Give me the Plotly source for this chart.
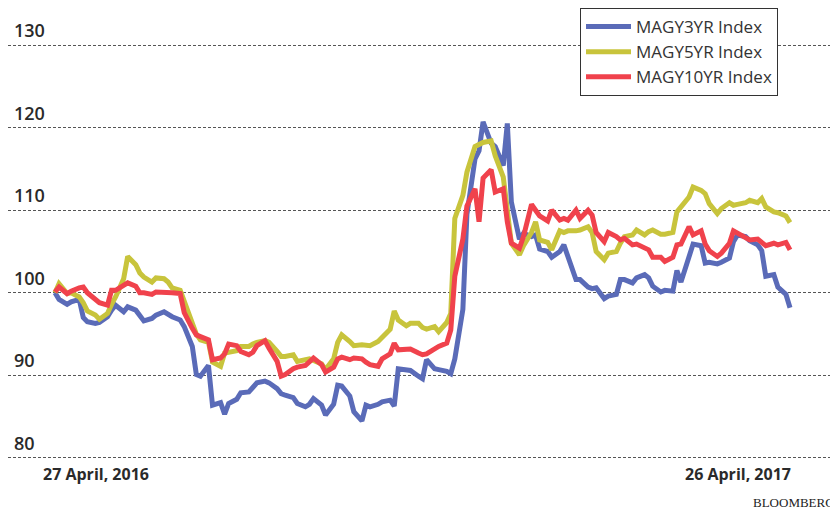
import pandas as pd
import plotly.graph_objects as go

# Every second business day from 27 April 2016 to 26 April 2017
dates = pd.bdate_range("2016-04-27", "2017-04-26")[::2]

magy3 = [100, 99.2, 98.6, 98.9, 99.2, 97, 96.5, 96.3, 96.4, 97.1,
         97.9, 98.5, 97.7, 98.3, 97.9, 97.3, 96.6, 96.9, 97.3, 97.7,
         97.4, 97.1, 96.7, 95.9, 93.5, 90.1, 89.9, 91.2, 86.4, 86.7,
         85.3, 86.6, 87.1, 87.9, 88, 88.6, 89.1, 89.3, 89.1, 88.4,
         87.8, 87.6, 87.3, 86.6, 86.2, 86.5, 87.2, 86.4, 85.2, 86.5,
         88.8, 88.7, 87.5, 85.6, 84.5, 86.4, 86.2, 86.5, 86.8, 87,
         86.3, 90.8, 90.7, 90.6, 89.9, 89.6, 91.9, 90.8, 90.7, 90.5,
         90.2, 92, 98, 109.5, 116.2, 117.2, 120.7, 118.1, 117.7, 115.4,
         120.5, 111, 106.5, 107.2, 106.8, 107, 105.3, 105, 104.3, 105,
         105.8, 104.5, 101.6, 101.6, 100.7, 100.5, 100.6, 99.3, 99.6, 99.8,
         101.6, 101.6, 101.2, 101.8, 102.2, 101.8, 100.8, 100.1, 100.3, 100.2,
         102.7, 101.3, 104.3, 105.9, 105.7, 103.6, 103.7, 103.5, 103.7, 104.2,
         106.2, 107, 106.8, 106.3, 105.8, 105.1, 102, 102.2, 100.7, 99.8,
         98.2]

magy5 = [100, 101.1, 99.9, 100, 99.5, 98.8, 97.8, 97.3, 96.8, 97.5,
         98.6, 99.5, 101.7, 104.4, 103.4, 102.4, 101.9, 101.3, 101.8, 101.7,
         101.3, 100.6, 100.3, 99, 96.3, 95, 94.3, 94, 91.6, 91.1,
         92.7, 92.8, 93, 93.5, 93.5, 93.8, 94, 94.2, 94, 92.9,
         92.3, 92.3, 92.5, 91.7, 91.8, 92, 91.8, 91.4, 90.7, 92,
         94, 94.9, 94.1, 93.6, 93.7, 93.7, 93.6, 94.1, 94.6, 95.6,
         97.8, 96.7, 96, 96.3, 96.3, 95.8, 95.6, 95.9, 95.3, 96.4,
         97.5, 109, 111.8, 114.6, 117.7, 118, 118.2, 118.4, 116.6, 114,
         110.4, 106, 104.6, 105.7, 107.3, 108.6, 106.4, 106.1, 105.2, 107.5,
         107.3, 107.5, 107.5, 107.6, 108, 107.3, 105, 104, 104.8, 105,
         106, 106.8, 107, 107.6, 107, 107.4, 107.6, 107.1, 107.1, 107.3,
         109.8, 110.4, 111.6, 112.8, 112.4, 112, 110.8, 109.6, 110.2, 110.9,
         110.6, 110.7, 110.9, 111.2, 110.9, 111.4, 110.4, 109.8, 109.7, 109.3,
         108.5]

magy10 = [100.1, 100.7, 99.9, 100.2, 100.6, 100.7, 100, 99.1, 98.8, 98.5,
          100.3, 100.3, 100.8, 101.2, 100.8, 100, 100, 99.8, 100.1, 100.1,
          100, 100, 99.9, 97.6, 95.7, 94.9, 94.7, 94.3, 91.9, 92.1,
          92.6, 93.8, 93.6, 92.9, 92.5, 92.8, 93.6, 94.2, 93.3, 91.7,
          89.9, 90.1, 90.8, 91, 91.2, 91.6, 92.1, 91.3, 90.4, 91,
          92, 92.2, 91.9, 92.1, 92, 91.6, 91.3, 91.1, 92, 92.6,
          93.9, 93.1, 93.1, 93.2, 92.7, 92.5, 92.6, 93.3, 93.5, 93.9,
          95.5, 102, 106.5, 110.5, 112.6, 108.6, 113.9, 114.9, 112.2, 112.6,
          108.6, 106, 105.4, 106.8, 110.7, 110, 109.3, 108.7, 110, 108.8,
          109, 108.8, 110, 109, 110, 109.4, 107.3, 106.2, 107.3, 106.8,
          106.4, 106.6, 105.8, 105.9, 105.4, 105.2, 104.3, 104.3, 103.8, 104.3,
          105.8, 105.9, 108, 107, 107.5, 105.9, 105.1, 104.4, 104.8, 106,
          107.5, 107.2, 106.7, 106.4, 106.5, 106, 105.7, 106, 105.8, 106.1,
          105.2]

series_names = ["MAGY3YR Index", "MAGY5YR Index", "MAGY10YR Index"]
series_values = [magy3, magy5, magy10]
series_colors = ["#5a6bb8", "#c8c43c", "#f0424c"]

y_ticks = [80, 90, 100, 110, 120, 130]
x_labels = ["27 April, 2016", "26 April, 2017"]
source = "BLOOMBERG"

fig = go.Figure()
for name, vals, col in zip(series_names, series_values, series_colors):
    fig.add_trace(go.Scatter(x=dates, y=vals, mode="lines", name=name,
                             line=dict(color=col, width=5)))

start, end = dates[0], dates[-1]
span = end - start
x0 = start - span * (47 / 735)
x1 = end + span * (48 / 735)

W, H = 830, 505
fig.update_layout(
    width=W, height=H,
    margin=dict(l=0, r=0, t=0, b=0),
    paper_bgcolor="white", plot_bgcolor="white",
    font=dict(family="Open Sans", color="#333"),
    xaxis=dict(range=[x0, x1], showgrid=False, showticklabels=False,
               zeroline=False, showline=False, ticks=""),
    yaxis=dict(range=[73.34, 134.48], tickvals=y_ticks, showticklabels=False,
               showgrid=True, gridcolor="#555", gridwidth=1, griddash="3px,2px",
               zeroline=False, showline=False, ticks=""),
    legend=dict(x=572 / W, y=1.0, xanchor="left", yanchor="top",
                bgcolor="white", bordercolor="#333", borderwidth=1,
                font=dict(size=17, color="#333", family="Open Sans"),
                tracegroupgap=0, itemwidth=45),
    showlegend=True,
)

for v in y_ticks:
    fig.add_annotation(x=4 / W, xref="paper", y=v, yref="y",
                       text=str(v), showarrow=False, xanchor="left", yanchor="bottom",
                       yshift=1, font=dict(size=18, color="#2a2a2a", weight=600))

fig.add_annotation(x=start, xref="x", y=80, yref="y", text=x_labels[0], showarrow=False,
                   xanchor="left", yanchor="top", xshift=-14, yshift=-3,
                   font=dict(size=16, color="#2a2a2a", weight=700))
fig.add_annotation(x=end, xref="x", y=80, yref="y", text=x_labels[1], showarrow=False,
                   xanchor="right", yanchor="top", xshift=3, yshift=-3,
                   font=dict(size=16, color="#2a2a2a", weight=700))
fig.add_annotation(x=1.0, xref="paper", y=0.0, yref="paper", text=source,
                   showarrow=False, xanchor="right", yanchor="bottom", yshift=1, xshift=-1,
                   font=dict(size=13, color="#222", family="Liberation Serif"))

fig.write_html("out.html")
